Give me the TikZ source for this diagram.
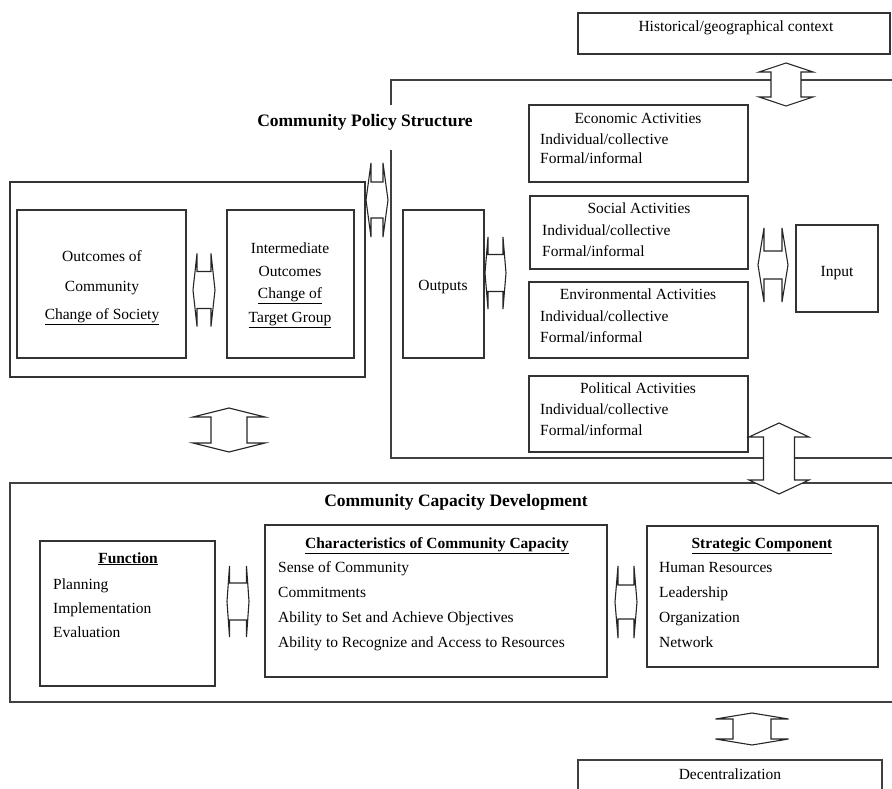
\documentclass[tikz,border=0pt]{standalone}
\usepackage{fontspec}
\setmainfont{Liberation Serif}
\newcommand\bx[5]{\node[box, minimum width={(#4)-(#2)}, minimum height={(#5)-(#3)}] (#1) at ({((#2)+(#4))/2},{((#3)+(#5))/2}) {};}
\newcommand\vdarr[6]{\draw[arr] (#1,#2) -- ({#1+#4},{#2+#6}) -- ({#1+#5},{#2+#6}) -- ({#1+#5},{#3-#6}) -- ({#1+#4},{#3-#6}) -- (#1,#3) -- ({#1-#4},{#3-#6}) -- ({#1-#5},{#3-#6}) -- ({#1-#5},{#2+#6}) -- ({#1-#4},{#2+#6}) -- cycle;}
\newcommand\hdarr[6]{\draw[arr] (#2,#1) -- ({#2+#6},{#1-#4}) -- ({#2+#6},{#1-#5}) -- ({#3-#6},{#1-#5}) -- ({#3-#6},{#1-#4}) -- (#3,#1) -- ({#3-#6},{#1+#4}) -- ({#3-#6},{#1+#5}) -- ({#2+#6},{#1+#5}) -- ({#2+#6},{#1+#4}) -- cycle;}
\begin{document}
\begin{tikzpicture}[x=1pt,y=-1pt,
 box/.style={draw=black!80, line width=1.1pt, inner sep=0pt, outer sep=0pt},
 frame/.style={draw=black!75, line width=1.3pt},
 arr/.style={draw=black!85, fill=white, line width=1.1pt, line join=miter},
 txt/.style={inner sep=0pt, font=\fontsize{15.5}{18}\selectfont},
 ttl/.style={inner sep=0pt, font=\fontsize{17.5}{20}\selectfont\bfseries},
 sub/.style={inner sep=0pt, font=\fontsize{15.5}{18}\selectfont\bfseries}]
\useasboundingbox (0,0) rectangle (892,789);

% frames
\draw[frame] (895,80) -- (391,80) -- (391,458) -- (895,458);
\draw[frame] (895,483) -- (10,483) -- (10,702) -- (895,702);
\draw[frame] (578,795) -- (578,760) -- (882,760) -- (882,795);
\node[ttl, fill=white, anchor=base, text height=22pt, text depth=23pt, inner xsep=2pt] (cps) at (365,127) {Community Policy Structure};

% boxes
\bx{hist}{578}{13}{890}{54}
\bx{left}{10}{182}{365}{377}
\bx{oc}{17}{210}{186}{358}
\bx{io}{227}{210}{354}{358}
\bx{out}{403}{210}{484}{358}
\bx{econ}{529}{105}{748}{182}
\bx{soc}{530}{196}{748}{269}
\bx{env}{529}{282}{748}{358}
\bx{pol}{529}{376}{748}{452}
\bx{inp}{796}{225}{878}{312}
\bx{fun}{40}{541}{215}{686}
\bx{cha}{265}{525}{607}{677}
\bx{str}{647}{526}{878}{667}

% double arrows
\vdarr{786}{63}{106}{27}{15}{9}
\hdarr{200}{366}{388}{37}{18}{5}
\hdarr{290}{193}{215}{36.5}{18.5}{4}
\hdarr{273}{485}{506}{36}{18.5}{3}
\hdarr{265}{758}{788}{37}{14}{6}
\vdarr{229}{408}{452}{36}{18}{9}
\vdarr{779}{423}{494}{30}{15.5}{14}
\hdarr{601.5}{227}{249}{35.5}{18.5}{2.5}
\hdarr{602}{615}{637}{36}{17}{3}
\vdarr{752}{713}{745}{36.5}{19}{6}

% texts
\node[txt, anchor=base] (t-hist) at (736,32) {Historical/geographical context};
\node[txt, anchor=base] (t-oc1) at (102,261) {Outcomes of};
\node[txt, anchor=base] (t-oc2) at (102,291) {Community};
\node[txt, anchor=base] (t-oc3) at (102,319) {\underline{Change of Society}};
\node[txt, anchor=base] (t-io1) at (290,253) {Intermediate};
\node[txt, anchor=base] (t-io2) at (290,276) {Outcomes};
\node[txt, anchor=base] (t-io3) at (290,298) {\underline{Change of}};
\node[txt, anchor=base] (t-io4) at (290,322) {\underline{Target Group}};
\node[txt, anchor=base] (t-out) at (443,290) {Outputs};
\node[txt, anchor=base] (t-inp) at (837,276) {Input};

\node[txt, anchor=base] (t-ec) at (638,124) {Economic Activities};
\node[txt, anchor=base west] (t-ec1) at (540,145) {Individual/collective};
\node[txt, anchor=base west] (t-ec2) at (540,164) {Formal/informal};
\node[txt, anchor=base] (t-so) at (639,213) {Social Activities};
\node[txt, anchor=base west] (t-so1) at (542,235) {Individual/collective};
\node[txt, anchor=base west] (t-so2) at (542,256) {Formal/informal};
\node[txt, anchor=base] (t-en) at (638,299) {Environmental Activities};
\node[txt, anchor=base west] (t-en1) at (540,321) {Individual/collective};
\node[txt, anchor=base west] (t-en2) at (540,342) {Formal/informal};
\node[txt, anchor=base] (t-po) at (638,393) {Political Activities};
\node[txt, anchor=base west] (t-po1) at (540,414) {Individual/collective};
\node[txt, anchor=base west] (t-po2) at (540,435) {Formal/informal};

\node[ttl, anchor=base] (t-ccd) at (456,506) {Community Capacity Development};
\node[sub, anchor=base] (t-fun) at (128,563) {\underline{Function}};
\node[txt, anchor=base west] (t-f1) at (53,589) {Planning};
\node[txt, anchor=base west] (t-f2) at (53,613) {Implementation};
\node[txt, anchor=base west] (t-f3) at (53,637) {Evaluation};
\node[sub, anchor=base] (t-cha) at (437,548) {\underline{Characteristics of Community Capacity}};
\node[txt, anchor=base west] (t-c1) at (278,572) {Sense of Community};
\node[txt, anchor=base west] (t-c2) at (278,597) {Commitments};
\node[txt, anchor=base west] (t-c3) at (278,622) {Ability to Set and Achieve Objectives};
\node[txt, anchor=base west] (t-c4) at (278,647) {Ability to Recognize and Access to Resources};
\node[sub, anchor=base] (t-str) at (762,548) {\underline{Strategic Component}};
\node[txt, anchor=base west] (t-s1) at (659,572) {Human Resources};
\node[txt, anchor=base west] (t-s2) at (659,597) {Leadership};
\node[txt, anchor=base west] (t-s3) at (659,622) {Organization};
\node[txt, anchor=base west] (t-s4) at (659,647) {Network};
\node[txt, anchor=base] (t-dec) at (730,779) {Decentralization};
\end{tikzpicture}
\end{document}
